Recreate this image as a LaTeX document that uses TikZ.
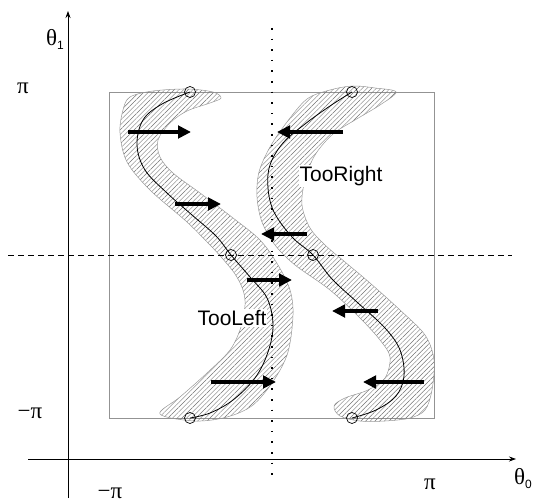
\documentclass[tikz,border=0pt]{standalone}
\usepackage{fontspec}
\setmainfont{Liberation Sans}
\newfontfamily\grk{Liberation Serif}
\usetikzlibrary{arrows.meta,patterns.meta}
\begin{document}
\begin{tikzpicture}[x=1pt,y=-1pt,
  band/.style={draw=gray!80,line width=0.5pt,pattern={Lines[angle=45,distance=3.3pt,line width=0.45pt]},pattern color=black!55},
  center/.style={draw=black,line width=0.8pt},
  mark circ/.style={draw=black,line width=0.7pt,circle,minimum size=11pt,inner sep=0pt},
  bigarrow/.style={line width=3.6pt,-{Triangle[length=13pt,width=12.5pt]}},
  axis/.style={line width=0.8pt,-{Stealth[length=7pt,width=5pt]}},
  region/.style={fill=white,inner sep=1pt,font=\fontsize{21}{24}\selectfont},
  lab/.style={font=\grk\fontsize{23}{25}\selectfont,inner sep=0pt}]
\useasboundingbox (0,0) rectangle (534,502);
% frame box
\draw[gray!85,line width=0.7pt] (109,92) rectangle (434,418);
% axes
\coordinate (ybot) at (68,498); \coordinate (ytop) at (68,11);
\coordinate (xl) at (28,459); \coordinate (xr) at (516,459);
\draw[axis] (ybot) -- (ytop);
\draw[axis] (xl) -- (xr);
% bands
\path[band] plot[smooth cycle,tension=0.55] coordinates {
 (130,97) (153,91) (187,89) (213,92) (221,98) (210,103) (187,111) (170,123)
 (158,140) (160,157) (173,173) (200,193) (233,218) (260,240) (278,265)
 (290,290) (293,315) (288,352) (274,380) (253,405) (227,417) (195,421)
 (160,414) (180,397) (207,373) (230,350) (241,327) (245,305) (243,290)
 (235,274) (222,258) (210,245) (187,222) (150,190) (127,162) (120,133) (123,110)};
\path[band] plot[smooth cycle,tension=0.55] coordinates {
 (307,99) (330,90) (353,86) (375,88) (396,92) (380,105) (355,120) (333,134)
 (315,155) (305,180) (302,205) (310,228) (325,245) (345,262) (370,283)
 (400,310) (425,335) (434,360) (432,390) (425,410) (410,418) (385,421)
 (360,421) (340,416) (334,406) (345,398) (368,390) (385,378) (390,357)
 (380,340) (360,318) (330,290) (295,265) (275,245) (262,222) (257,197)
 (259,172) (270,147) (287,122)};
% centre lines
\draw[center] plot[smooth,tension=0.6] coordinates {
 (190,92) (162,104) (143,120) (137,145) (145,170) (167,193) (192,215)
 (216,236) (231,255) (250,277) (267,298) (273,325) (268,352) (255,378)
 (233,400) (210,413) (190,418)};
\draw[center] plot[smooth,tension=0.6] coordinates {
 (352,92) (330,106) (305,124) (283,143) (270,165) (268,188) (274,212)
 (292,237) (313,255) (332,279) (358,303) (385,328) (400,350) (404,376)
 (396,396) (376,410) (352,418)};
% markers
\node[mark circ] (c1) at (190,92) {};
\node[mark circ] (c2) at (231,255) {};
\node[mark circ] (c3) at (190,418) {};
\node[mark circ] (c4) at (352,92) {};
\node[mark circ] (c5) at (313,255) {};
\node[mark circ] (c6) at (352,418) {};
% reference lines
\coordinate (dl) at (8,255); \coordinate (dr) at (512,255);
\draw[line width=0.7pt,dash pattern=on 6pt off 4pt] (dl) -- (dr);
\coordinate (vt) at (272,28); \coordinate (vb) at (272,482);
\draw[line width=1.1pt,dash pattern=on 1.6pt off 9pt] (vt) -- (vb);
% arrows
\coordinate (a1s) at (128,132); \coordinate (a1e) at (191,132);
\coordinate (a2s) at (175,204); \coordinate (a2e) at (221,204);
\coordinate (a3s) at (247,280); \coordinate (a3e) at (292,280);
\coordinate (a4s) at (211,382); \coordinate (a4e) at (276,382);
\coordinate (b1s) at (343,132); \coordinate (b1e) at (277,132);
\coordinate (b2s) at (307,234); \coordinate (b2e) at (261,234);
\coordinate (b3s) at (378,311); \coordinate (b3e) at (332,311);
\coordinate (b4s) at (424,382); \coordinate (b4e) at (363,382);
\foreach \s/\e in {a1s/a1e,a2s/a2e,a3s/a3e,a4s/a4e,b1s/b1e,b2s/b2e,b3s/b3e,b4s/b4e}
  \draw[bigarrow] (\s) -- (\e);
% region labels
\node[region] (tr) at (341,176) {TooRight};
\node[region] (tl) at (232,318) {TooLeft};
% axis labels
\node[lab] (th1) at (55,39) {θ\raisebox{-4pt}{\rmfamily\fontsize{12}{12}\selectfont 1}};
\node[lab] (th0) at (523,479) {θ\raisebox{-4pt}{\rmfamily\fontsize{12}{12}\selectfont 0}};
\node[lab] (pil) at (23,88) {π};
\node[lab] (mpil) at (30,413) {−π};
\node[lab] (mpib) at (110,493) {−π};
\node[lab] (pib) at (430,484) {π};
\end{tikzpicture}
\end{document}
